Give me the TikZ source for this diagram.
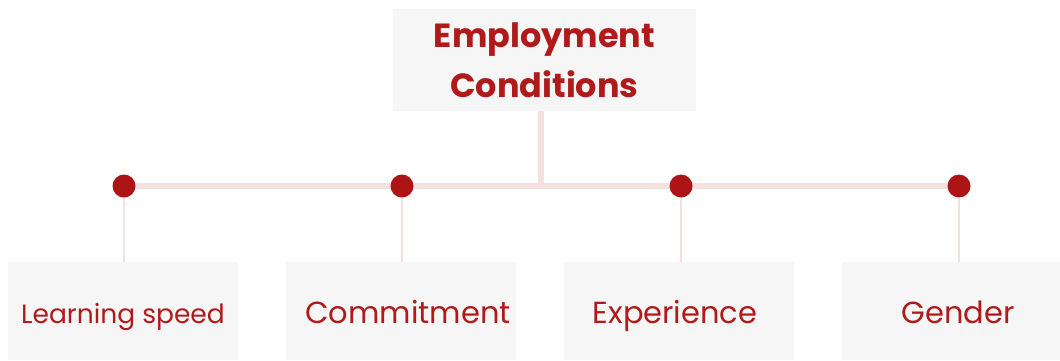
\documentclass[tikz,border=0pt]{standalone}
\usepackage{fontspec}
\setmainfont{Poppins}
\definecolor{boxfill}{HTML}{F6F6F6}
\definecolor{txtred}{HTML}{B01A1A}
\definecolor{dotred}{HTML}{AD1416}
\definecolor{linepink}{HTML}{F5E0E0}
\begin{document}
\begin{tikzpicture}[x=1pt,y=-1pt,
  topbox/.style={fill=boxfill, minimum width=303pt, minimum height=102pt, inner sep=0pt, text=txtred, font=\fontsize{33.5}{50}\selectfont\bfseries, align=center},
  leafbox/.style={fill=boxfill, minimum width=230pt, minimum height=98pt, inner sep=0pt, text=txtred, font=\fontsize{30.5}{34}\selectfont, text height=30pt, text depth=6pt},
  smallleaf/.style={leafbox, font=\fontsize{26.5}{30}\selectfont},
  dot/.style={circle, fill=dotred, minimum size=23pt, inner sep=0pt},
  trunk/.style={draw=linepink, line width=5.5pt},
  drop/.style={draw=linepink, line width=1.8pt}]
\useasboundingbox (0,0) rectangle (1060,360);
\node[topbox] (root) at (544.5,60) {Employment\\Conditions};
\coordinate (junc) at (541,186);
\coordinate (left) at (124,186);
\coordinate (right) at (959,186);
\draw[trunk] (root.south -| junc) -- (junc);
\draw[trunk] (left) -- (right);
\fill[boxfill] (8,262) rectangle (238,360);
\fill[boxfill] (286,262) rectangle (516,360);
\fill[boxfill] (564,262) rectangle (794,360);
\fill[boxfill] (842,262) rectangle (1072,360);
\node[smallleaf] (l1) at (123,311) {Learning speed};
\node[leafbox, fill=none] (l2) at (408,311) {Commitment};
\node[leafbox, fill=none] (l3) at (675,311) {Experience};
\node[leafbox, fill=none] (l4) at (958,311) {Gender};
\foreach \i/\x in {1/124,2/402,3/681,4/959} {
  \node[dot] (d\i) at (\x,186) {};
}
\foreach \i in {1,2,3,4} {
  \draw[drop] (d\i.south) -- (d\i.south |- l\i.north);
}
\end{tikzpicture}
\end{document}
